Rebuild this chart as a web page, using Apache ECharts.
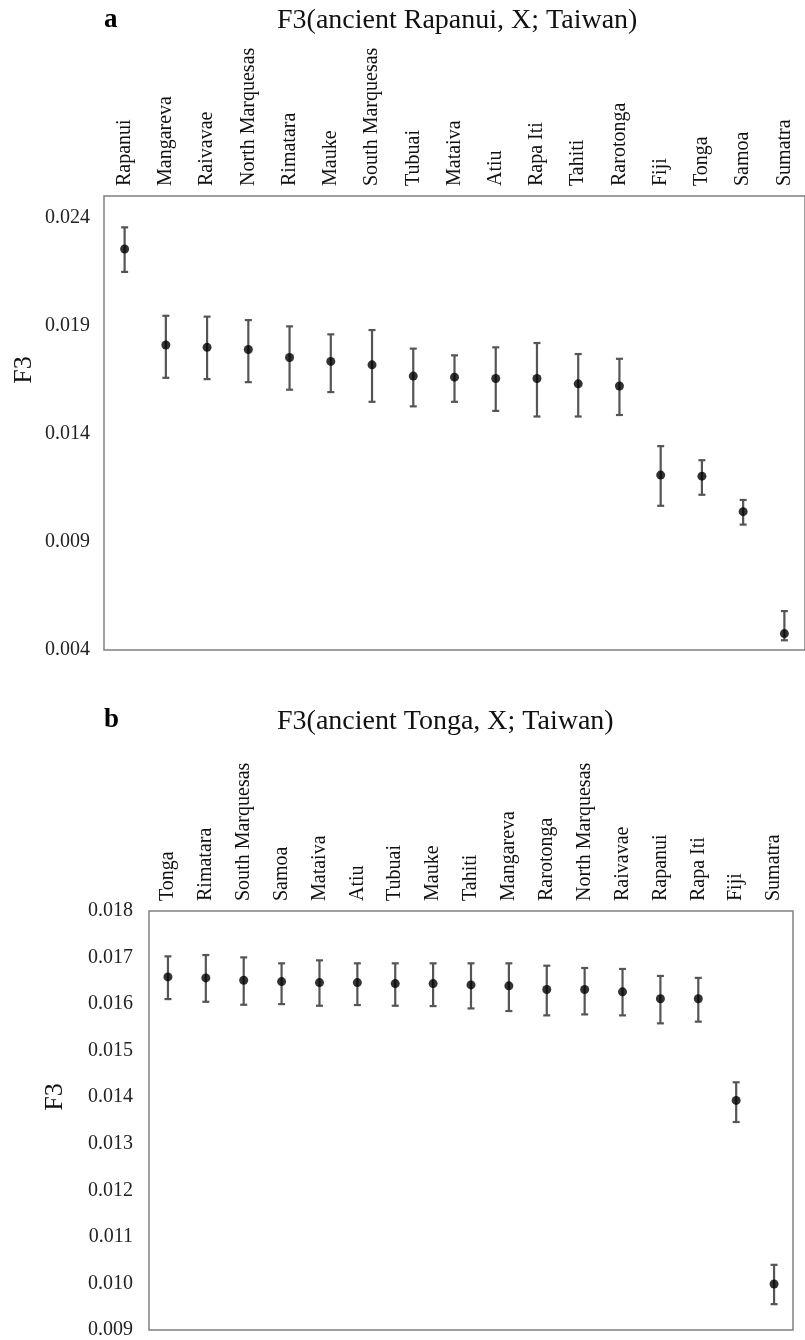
<!DOCTYPE html>
<html>
<head>
<meta charset="utf-8">
<script src="https://cdn.jsdelivr.net/npm/echarts@6/dist/echarts.min.js"></script>
<style>html,body{margin:0;padding:0;background:#fff}#c{width:805px;height:1340px}</style>
</head>
<body>
<div id="c"></div>
<script>
// Panel a: F3(ancient Rapanui, X; Taiwan)
const catsA = ['Rapanui','Mangareva','Raivavae','North Marquesas','Rimatara','Mauke','South Marquesas','Tubuai','Mataiva','Atiu','Rapa Iti','Tahiti','Rarotonga','Fiji','Tonga','Samoa','Sumatra'];
const meanA = [0.02255,0.01811,0.01800,0.01790,0.01753,0.01735,0.01719,0.01667,0.01662,0.01656,0.01656,0.01631,0.01621,0.01209,0.01204,0.01040,0.00476];
const lowA  = [0.02149,0.01659,0.01653,0.01639,0.01604,0.01593,0.01548,0.01527,0.01548,0.01506,0.01480,0.01480,0.01487,0.01067,0.01118,0.00980,0.00445];
const highA = [0.02355,0.01946,0.01942,0.01926,0.01897,0.01860,0.01880,0.01794,0.01763,0.01800,0.01820,0.01769,0.01747,0.01343,0.01278,0.01094,0.00580];

// Panel b: F3(ancient Tonga, X; Taiwan)
const catsB = ['Tonga','Rimatara','South Marquesas','Samoa','Mataiva','Atiu','Tubuai','Mauke','Tahiti','Mangareva','Rarotonga','North Marquesas','Raivavae','Rapanui','Rapa Iti','Fiji','Sumatra'];
const meanB = [0.016584,0.016563,0.016513,0.016484,0.016462,0.016462,0.016441,0.016441,0.016413,0.016392,0.016313,0.016313,0.016264,0.016114,0.016114,0.013931,0.009988];
const lowB  = [0.016108,0.016050,0.015986,0.016000,0.015965,0.015980,0.015965,0.015958,0.015907,0.015852,0.015758,0.015779,0.015758,0.015587,0.015623,0.013467,0.009555];
const highB = [0.017026,0.017054,0.017004,0.016876,0.016940,0.016876,0.016876,0.016876,0.016876,0.016876,0.016825,0.016776,0.016755,0.016605,0.016563,0.014321,0.010400];

const FONT = 'Liberation Serif';
const chart = echarts.init(document.getElementById('c'));

function errItem(params, api) {
  const x = api.value(0);
  const lo = api.coord([x, api.value(1)]);
  const hi = api.coord([x, api.value(2)]);
  const c = 3.5;
  const st = {stroke: '#555555', lineWidth: 2.2};
  return {
    type: 'group',
    children: [
      {type: 'line', shape: {x1: lo[0], y1: lo[1], x2: hi[0], y2: hi[1]}, style: st},
      {type: 'line', shape: {x1: lo[0]-c, y1: lo[1], x2: lo[0]+c, y2: lo[1]}, style: st},
      {type: 'line', shape: {x1: hi[0]-c, y1: hi[1], x2: hi[0]+c, y2: hi[1]}, style: st}
    ]
  };
}

function xAx(cats, gi) {
  return {
    type: 'category', gridIndex: gi, data: cats, position: 'top', boundaryGap: true,
    axisLine: {show: false}, axisTick: {show: false}, splitLine: {show: false},
    axisLabel: {rotate: -90, interval: 0, margin: 10, fontFamily: FONT, fontSize: 20, color: '#111'}
  };
}
function yAx(gi, min, max, interval, margin) {
  return {
    type: 'value', gridIndex: gi, min: min, max: max, interval: interval,
    axisLine: {show: false}, axisTick: {show: false}, splitLine: {show: false},
    axisLabel: {margin: margin, fontFamily: FONT, fontSize: 20, color: '#222', showMaxLabel: gi === 1,
      formatter: v => v.toFixed(3)}
  };
}

chart.setOption({
  animation: false,
  backgroundColor: '#fff',
  grid: [
    {left: 104, right: -9, top: 196, height: 454, show: true, borderColor: '#808080', borderWidth: 1.5},
    {left: 149, right: 12, top: 911, bottom: 7, show: true, borderColor: '#808080', borderWidth: 1.5}
  ],
  xAxis: [xAx(catsA, 0), xAx(catsB, 1)],
  yAxis: [yAx(0, 0.004, 0.025, 0.005, 14), yAx(1, 0.009, 0.018, 0.001, 16)],
  graphic: [
    {type: 'text', x: 104, y: 20, style: {text: 'a', font: 'bold 27px "Liberation Serif"', fill: '#000', align: 'left', verticalAlign: 'middle'}},
    {type: 'text', x: 277, y: 21, style: {text: 'F3(ancient Rapanui, X; Taiwan)', font: '28px "Liberation Serif"', fill: '#111', align: 'left', verticalAlign: 'middle'}},
    {type: 'text', x: 24, y: 370, rotation: Math.PI/2, style: {text: 'F3', font: '26px "Liberation Serif"', fill: '#111', align: 'center', verticalAlign: 'middle'}},
    {type: 'text', x: 104, y: 720, style: {text: 'b', font: 'bold 27px "Liberation Serif"', fill: '#000', align: 'left', verticalAlign: 'middle'}},
    {type: 'text', x: 277, y: 722, style: {text: 'F3(ancient Tonga, X; Taiwan)', font: '28px "Liberation Serif"', fill: '#111', align: 'left', verticalAlign: 'middle'}},
    {type: 'text', x: 55, y: 1097, rotation: Math.PI/2, style: {text: 'F3', font: '26px "Liberation Serif"', fill: '#111', align: 'center', verticalAlign: 'middle'}}
  ],
  series: [
    {type: 'custom', xAxisIndex: 0, yAxisIndex: 0, renderItem: errItem,
      data: catsA.map((c, i) => [i, lowA[i], highA[i]]), z: 2},
    {type: 'scatter', xAxisIndex: 0, yAxisIndex: 0, symbolSize: 9, itemStyle: {color: '#000'},
      data: catsA.map((c, i) => [i, meanA[i]]), z: 3},
    {type: 'custom', xAxisIndex: 1, yAxisIndex: 1, renderItem: errItem,
      data: catsB.map((c, i) => [i, lowB[i], highB[i]]), z: 2},
    {type: 'scatter', xAxisIndex: 1, yAxisIndex: 1, symbolSize: 9, itemStyle: {color: '#000'},
      data: catsB.map((c, i) => [i, meanB[i]]), z: 3}
  ]
});
</script>
</body>
</html>
